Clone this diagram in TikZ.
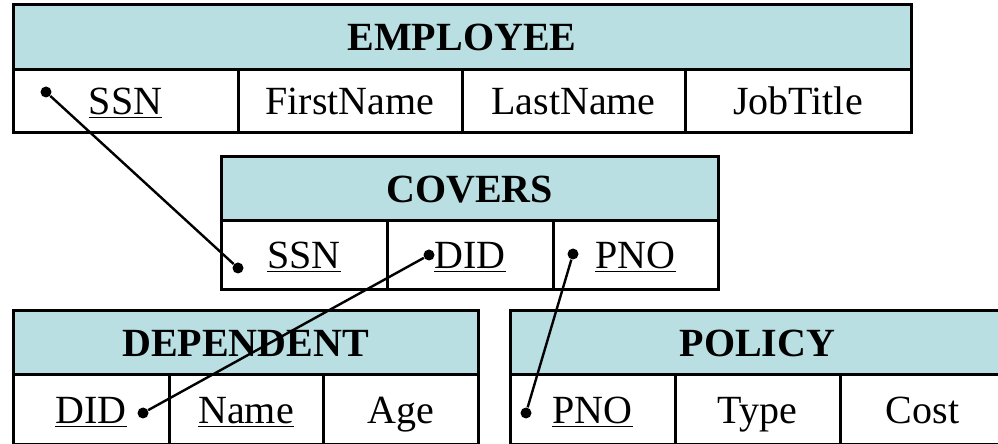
\documentclass[tikz,border=0pt]{standalone}
\usepackage{fontspec}
\setmainfont{Liberation Serif}
\usepackage{tikz}
\usetikzlibrary{
  calc,
  positioning
}
\definecolor{headfill}{RGB}{185,223,226}
\tikzset{
  tab/.style={
    draw,
    line width=1.5pt,
    inner sep=0pt,
    font=\fontsize{20}{24}\selectfont,
    text height=13.2pt,
    text depth=0pt},
  head/.style={tab, fill=headfill, font=\fontsize{20}{24}\selectfont\bfseries},
  key/.style={circle, fill=black, inner sep=0pt, minimum size=5.5pt},
  link/.style={line width=1.2pt}
  }

\begin{document}
\begin{tikzpicture}[x=0.5pt,y=-0.5pt]
    \useasboundingbox (0,0) rectangle (998,444);
    % EMPLOYEE
    \node[head, minimum width=449pt, minimum height=32.5pt] (emp) at (462,37.5) {EMPLOYEE};
    \node[tab, minimum width=112.5pt, minimum height=31.5pt] (empSSN) at (125.5,101.5) {\underline{SSN}};
    \node[tab, minimum width=112pt, minimum height=31.5pt] (empFirst) at (350,101.5) {FirstName};
    \node[tab, minimum width=111.5pt, minimum height=31.5pt] (empLast) at (573.5,101.5) {LastName};
    \node[tab, minimum width=113pt, minimum height=31.5pt] (empJob) at (798,101.5) {JobTitle};
    % COVERS
    \node[head, minimum width=248.5pt, minimum height=32pt] (cov) at (469.5,189) {COVERS};
    \node[tab, minimum width=83pt, minimum height=34.5pt] (covSSN) at (304,255.5) {\underline{SSN}};
    \node[tab, minimum width=83pt, minimum height=34.5pt] (covDID) at (470,255.5) {\underline{DID}};
    \node[tab, minimum width=82.5pt, minimum height=34.5pt] (covPNO) at (635.5,255.5) {\underline{PNO}};
    % DEPENDENT
    \node[head, minimum width=232.5pt, minimum height=32pt] (dep) at (245.5,343) {DEPENDENT};
    \node[tab, minimum width=78pt, minimum height=35pt] (depDID) at (91,410) {\underline{DID}};
    \node[tab, minimum width=77pt, minimum height=35pt] (depName) at (246,410) {\underline{Name}};
    \node[tab, minimum width=77.5pt, minimum height=35pt] (depAge) at (400.5,410) {Age};
    % POLICY
    \node[head, minimum width=247.5pt, minimum height=32pt] (pol) at (757.5,343) {POLICY};
    \node[tab, minimum width=82.5pt, minimum height=35pt] (polPNO) at (592.5,410) {\underline{PNO}};
    \node[tab, minimum width=82.5pt, minimum height=35pt] (polType) at (757.5,410) {Type};
    \node[tab, minimum width=82.5pt, minimum height=35pt] (polCost) at (922.5,410) {Cost};
    % key dots
    \node[key] (k1) at (46,92) {};
    \node[key] (k2) at (238,268) {};
    \node[key] (k3) at (429,255) {};
    \node[key] (k4) at (143,413) {};
    \node[key] (k5) at (573,254) {};
    \node[key] (k6) at (526,413) {};
    \draw [link]
    (k1) edge[] (k2)
    (k3) edge[] (k4)
    (k5) edge[] (k6);
  \end{tikzpicture}
\end{document}
